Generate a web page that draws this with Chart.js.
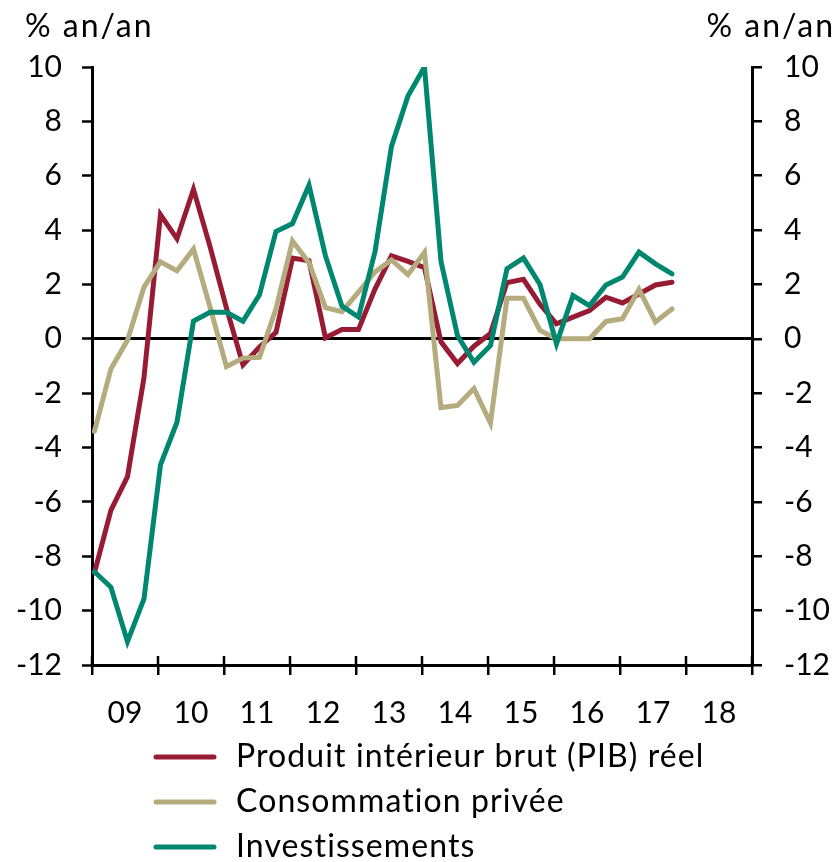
<!DOCTYPE html>
<html>
<head>
<meta charset="utf-8">
<script src="https://cdn.jsdelivr.net/npm/chart.js@4.4.1/dist/chart.umd.min.js"></script>
<style>
  html, body { margin: 0; padding: 0; background: #fff; }
  #wrap { width: 838px; height: 862px; position: relative; }
</style>
</head>
<body>
<div id="wrap"><canvas id="c" width="838" height="862"></canvas></div>
<script>
// ---- Data (quarterly, % an/an) ----
const quarters = [
  '2009T1','2009T2','2009T3','2009T4','2010T1','2010T2','2010T3','2010T4',
  '2011T1','2011T2','2011T3','2011T4','2012T1','2012T2','2012T3','2012T4',
  '2013T1','2013T2','2013T3','2013T4','2014T1','2014T2','2014T3','2014T4',
  '2015T1','2015T2','2015T3','2015T4','2016T1','2016T2','2016T3','2016T4',
  '2017T1','2017T2','2017T3','2017T4'
];
const pib = [-8.6, -6.3, -5.07, -1.43, 4.57, 3.68, 5.5, 3.4, 1.13, -0.96, -0.3, 0.24,
  2.97, 2.87, 0.04, 0.34, 0.34, 1.83, 3.05, 2.85, 2.62, -0.11, -0.91, -0.27,
  0.2, 2.07, 2.19, 1.27, 0.55, 0.8, 1.04, 1.53, 1.32, 1.65, 1.98, 2.08];
const consommation = [-3.4, -1.1, -0.05, 1.9, 2.83, 2.5, 3.3, 1.17, -1.02, -0.71, -0.68, 1.1,
  3.6, 2.8, 1.15, 1.0, 1.72, 2.46, 2.9, 2.36, 3.18, -2.53, -2.45, -1.83,
  -3.1, 1.49, 1.49, 0.31, 0.0, 0.0, 0.0, 0.64, 0.74, 1.82, 0.62, 1.1];
const investissements = [-8.57, -9.14, -11.14, -9.57, -4.64, -3.07, 0.65, 0.98, 0.98, 0.65, 1.62, 3.95,
  4.24, 5.65, 3.05, 1.2, 0.8, 3.2, 7.08, 8.93, 10.0, 2.85, 0.12, -0.86,
  -0.25, 2.58, 2.97, 2.0, -0.18, 1.59, 1.22, 1.98, 2.27, 3.19, 2.76, 2.39];
const yearLabels = ['09','10','11','12','13','14','15','16','17','18'];
const seriesNames = ['Produit intérieur brut (PIB) réel', 'Consommation privée', 'Investissements'];
const unitLabel = '% an/an';

// ---- Styling ----
const COLORS = ['#981B34', '#B4AB7F', '#00876F'];
const FONT = 'Lato, "Open Sans", sans-serif';
const QUARTER_OFFSET = 0.15; // where each quarter sits within its slot

function toPoints(arr) { return arr.map((v, i) => ({ x: i + QUARTER_OFFSET, y: v })); }

const overlay = {
  id: 'overlay',
  afterDraw(chart) {
    const { ctx, chartArea, scales } = chart;
    ctx.save();
    // upper half of the crossing x ticks
    ctx.strokeStyle = '#000';
    ctx.lineWidth = 2.5;
    scales.x.ticks.forEach(t => {
      const px = Math.round(scales.x.getPixelForValue(t.value));
      ctx.beginPath();
      ctx.moveTo(px, chartArea.bottom);
      ctx.lineTo(px, chartArea.bottom - 9);
      ctx.stroke();
    });
    // unit titles
    ctx.fillStyle = '#000';
    ctx.font = '32px ' + FONT;
    ctx.textBaseline = 'middle';
    try { ctx.letterSpacing = '2px'; } catch (e) {}
    ctx.textAlign = 'left';
    ctx.fillText(unitLabel, 25, 27);
    ctx.textAlign = 'right';
    ctx.fillText(unitLabel, 835, 27);
    // legend
    try { ctx.letterSpacing = '1.1px'; } catch (e) {}
    const rows = [757, 802, 847];
    chart.data.datasets.forEach((ds, i) => {
      const y = rows[i];
      ctx.strokeStyle = ds.borderColor;
      ctx.lineWidth = 5;
      ctx.lineCap = 'round';
      ctx.beginPath();
      ctx.moveTo(156, y);
      ctx.lineTo(214, y);
      ctx.stroke();
      ctx.fillStyle = '#000';
      ctx.textAlign = 'left';
      ctx.fillText(ds.label, 236, y);
    });
    ctx.restore();
  }
};

const yTicks = (pad) => ({
  stepSize: 2,
  color: '#000',
  padding: pad,
  font: { family: FONT, size: 30 }
});

new Chart(document.getElementById('c'), {
  type: 'line',
  data: {
    datasets: [
      { label: seriesNames[0], data: toPoints(pib), borderColor: COLORS[0], order: 3 },
      { label: seriesNames[1], data: toPoints(consommation), borderColor: COLORS[1], order: 2 },
      { label: seriesNames[2], data: toPoints(investissements), borderColor: COLORS[2], order: 1 }
    ]
  },
  options: {
    responsive: false,
    animation: false,
    devicePixelRatio: 1,
    layout: { padding: { top: 67, left: 0, right: 0, bottom: 0 } },
    elements: {
      line: { borderWidth: 5, tension: 0, borderCapStyle: 'round', borderJoinStyle: 'miter', fill: false },
      point: { radius: 0, hoverRadius: 0 }
    },
    plugins: { legend: { display: false }, tooltip: { enabled: false } },
    scales: {
      x: {
        type: 'linear',
        min: 0,
        max: 40,
        afterFit: s => { s.height = 197; },
        afterBuildTicks: s => { s.ticks = yearLabels.map((_, i) => ({ value: i * 4 })).concat([{ value: 40 }]); },
        ticks: {
          autoSkip: false,
          maxRotation: 0,
          color: '#000',
          padding: 20,
          labelOffset: 33,
          font: { family: FONT, size: 30 },
          callback: v => yearLabels[v / 4] ?? ''
        },
        grid: { drawOnChartArea: false, drawTicks: true, tickLength: 10, color: '#000', lineWidth: 2.5 },
        border: { display: true, color: '#000', width: 3 }
      },
      y: {
        position: 'left',
        min: -12,
        max: 10,
        afterFit: s => { s.width = 92; },
        ticks: yTicks(20),
        grid: {
          drawOnChartArea: true,
          drawTicks: true,
          tickLength: 10,
          lineWidth: 3,
          color: c => (c.tick && c.tick.value === 0 ? '#000' : 'rgba(0,0,0,0)'),
          tickColor: '#000',
          tickWidth: 2.5
        },
        border: { display: true, color: '#000', width: 3 }
      },
      y2: {
        position: 'right',
        min: -12,
        max: 10,
        afterFit: s => { s.width = 86; },
        ticks: yTicks(22),
        grid: { drawOnChartArea: false, drawTicks: true, tickLength: 10, color: '#000', lineWidth: 2.5 },
        border: { display: true, color: '#000', width: 3 }
      }
    }
  },
  plugins: [overlay]
});
</script>
</body>
</html>
